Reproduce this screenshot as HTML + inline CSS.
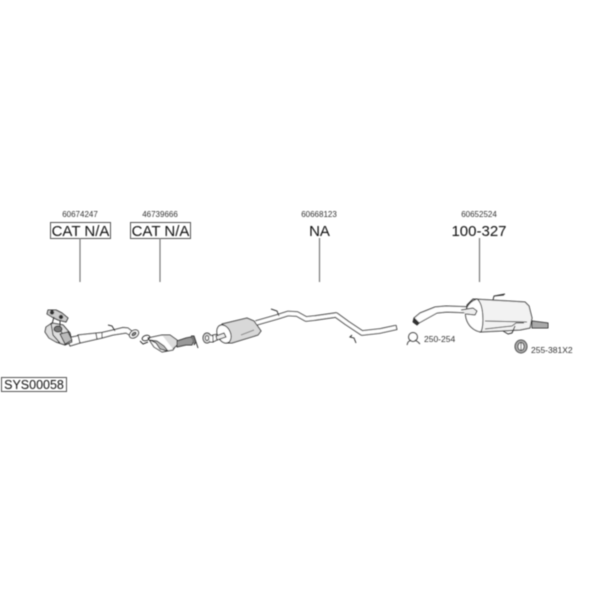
<!DOCTYPE html>
<html><head><meta charset="utf-8">
<style>html,body{margin:0;padding:0;background:#fff}svg{display:block}text{font-family:"Liberation Sans",sans-serif;fill:#333}</style>
</head><body>
<svg width="600" height="600" viewBox="0 0 600 600" xmlns="http://www.w3.org/2000/svg">
<defs><filter id="b" x="-5%" y="-5%" width="110%" height="110%"><feGaussianBlur stdDeviation="0.4"/></filter></defs>
<rect width="600" height="600" fill="#fff"/>
<g filter="url(#b)">
<!-- part numbers -->
<g font-size="8" text-anchor="middle">
<text x="80" y="217">60674247</text>
<text x="160" y="217">46739666</text>
<text x="319" y="217">60668123</text>
<text x="479" y="217">60652524</text>
</g>
<!-- labels -->
<rect x="50.5" y="222.5" width="60" height="16" fill="none" stroke="#555" stroke-width="1"/>
<rect x="130.5" y="222.5" width="60" height="16" fill="none" stroke="#555" stroke-width="1"/>
<g font-size="15" text-anchor="middle" style="fill:#111">
<text x="80.5" y="236" style="fill:#111">CAT N/A</text>
<text x="160.5" y="236" style="fill:#111">CAT N/A</text>
<text x="319.5" y="236" style="fill:#111">NA</text>
<text x="479" y="236" style="fill:#111">100-327</text>
</g>
<g stroke="#777" stroke-width="1.2">
<line x1="80" y1="238" x2="80" y2="282"/>
<line x1="160" y1="238" x2="160" y2="282"/>
<line x1="319.5" y1="238" x2="319.5" y2="282"/>
<line x1="479.5" y1="238" x2="479.5" y2="282"/>
</g>
<rect x="1.5" y="377.5" width="65" height="14" fill="none" stroke="#555" stroke-width="1"/>
<text x="34" y="389" font-size="12.5" text-anchor="middle" style="fill:#111">SYS00058</text>

<!-- front cat and pipe -->
<g fill="#fff" stroke="#333" stroke-width="1" stroke-linejoin="round">
<path d="M67 338 L77 336 L78 335 L102 332.5 L113 330 L123 327.5 L128 328 L133 332 L131 336 L126 333 L113 335 L102 338 L80 343 L70 346Z"/>
<line x1="78" y1="335" x2="80" y2="343"/>
<line x1="102" y1="332.5" x2="102" y2="338"/>
<line x1="96" y1="333.5" x2="97" y2="339"/>
<ellipse cx="134" cy="334" rx="5" ry="3.6" transform="rotate(-35 134 334)"/>
<ellipse cx="134" cy="334" rx="2.4" ry="1.4" transform="rotate(-35 134 334)" fill="#888"/>
<path d="M108 325 L112 326 L115 331" fill="none"/>
<path d="M46 327 L52 323 L63 325 L70 333 L72 342 L65 345 L56 342 L49 338 L45 332Z" fill="#ddd"/>
<path d="M51 323 L53 335 L60 343" fill="none"/>
<path d="M58 326 L62 333 L66 344" fill="none"/>
<ellipse cx="58" cy="329" rx="4" ry="3" fill="#777"/>
<path d="M60 334 L68 332 L72 340 L65 344Z" fill="#bbb"/>
<path d="M48 310 L56 310 L62 313 L68 318 L66 322 L58 320 L52 317 L47 314Z" fill="#ccc"/>
<circle cx="52" cy="312.5" r="1.7" fill="#333"/>
<circle cx="61" cy="317" r="1.7" fill="#333"/>
<path d="M54 317 L52 324 M60 320 L60 326" fill="none"/>
</g>
<!-- second cat -->
<g fill="#fff" stroke="#333" stroke-width="1" stroke-linejoin="round">
<path d="M148 338 L162 335 L172 337 L177 343 L173 350 L162 352 L154 347Z"/>
<path d="M150 340 L156 343 L160 349 L168 351 L164 346 L157 341Z" fill="#bbb"/>
<path d="M162 335 L170 335 L177 340 L177 345 L173 349" fill="#ddd"/>
<path d="M177 341 L186 338 L191 337 L194 340 L192 345 L186 345 L177 347Z" fill="#999"/>
<path d="M191 336 L194 336 L196 342 L194 345" fill="#777"/>
<path d="M196 342 L198 348" fill="none"/>
<ellipse cx="146" cy="338" rx="4" ry="2.6" transform="rotate(-20 146 338)" fill="none"/>
<path d="M140 341 L143 344 L148 342" fill="none"/>
</g>
<!-- flange -->
<g fill="#ddd" stroke="#333" stroke-width="1">
<ellipse cx="207" cy="338" rx="4" ry="5"/>
<ellipse cx="207" cy="338" rx="1.6" ry="2.4" fill="#fff"/>
<path d="M210 335 L213 336 L213 342 L210 342" fill="#fff"/>
<path d="M213 335 L219 334 L223 334 L223 337 L213 342Z" fill="#fff"/>
</g>
<!-- centre muffler & pipe -->
<path d="M256 323 L277 317 L288 313.5 L297 314 L306 319 L315 318 L336 315 L347 323 L362 333 L380 331 L396 327.5" fill="none" stroke="#444" stroke-width="5.5" stroke-linejoin="round"/>
<path d="M256 323 L277 317 L288 313.5 L297 314 L306 319 L315 318 L336 315 L347 323 L362 333 L380 331 L396 327.5" fill="none" stroke="#fff" stroke-width="3.4" stroke-linejoin="round"/>
<line x1="396" y1="325" x2="397" y2="330" stroke="#444"/>
<g fill="#fff" stroke="#333" stroke-width="1">
<path d="M222 324 L247 318 L254 321 L261 331 L258 335 L232 343 L226 343Z" fill="#d8d8d8"/>
<ellipse cx="224" cy="334" rx="6.5" ry="9.5" transform="rotate(-25 224 334)"/>
<path d="M216 336 L224 333 L226 337 L217 340Z" fill="#eee"/>
<path d="M241 335 L254 330" fill="none" stroke="#888"/>
<path d="M271 309 L277 311 L279 316" fill="none"/>
<path d="M352 335 L350 337 L354 338 L356 343" fill="none"/>
</g>
<!-- rear muffler -->
<g fill="#fff" stroke="#333" stroke-width="1" stroke-linejoin="round">
<path d="M532 321 L548 323 L548 328 L532 328Z" fill="#aaa"/>
<path d="M414 318 L420 313 L435 307 L446 306 L473 307 L472 313 L447 312 L437 313 L428 318 L419 323Z"/>
<path d="M414 318 L419 323 L417 325 L413 322Z" fill="#333"/>
<path d="M473 299 L525 302 L529 306 L532 318 L530 328 L520 330 L480 332 L470 326 L466 314 L467 305Z" fill="#f2f2f2"/>
<path d="M477 299 C468 302 464 310 466 318 C468 326 474 331 481 332 C484 325 484 304 477 299Z"/>
<path d="M461 310 L473 308 L477 311 L475 315 L466 314" fill="#eee"/>
<path d="M485 321 L527 322 M485 329 L512 326 L516 323 L524 323" fill="none" stroke="#555"/>
<path d="M503 331 L508 334 L512 333 L515 326" fill="none"/>
<path d="M493 300 L494 296 L504 295 M494 296 L505 294" fill="none"/>
</g>
<!-- small parts -->
<g fill="none" stroke="#444" stroke-width="1">
<ellipse cx="413" cy="337" rx="4.5" ry="4.5"/>
<path d="M408 342 L411 340 M418 342 L415 340 M408 342 L407 345 M418 342 L420 344"/>
<ellipse cx="521" cy="346.5" rx="6" ry="6.5" fill="#aaa"/>
<ellipse cx="521" cy="346.5" rx="3" ry="4" fill="#fff"/>
<line x1="521" y1="342" x2="521" y2="351"/>
</g>
<g font-size="8.5">
<text x="424" y="342">250-254</text>
<text x="531" y="353">255-381X2</text>
</g>
</g>
</svg>
</body></html>
